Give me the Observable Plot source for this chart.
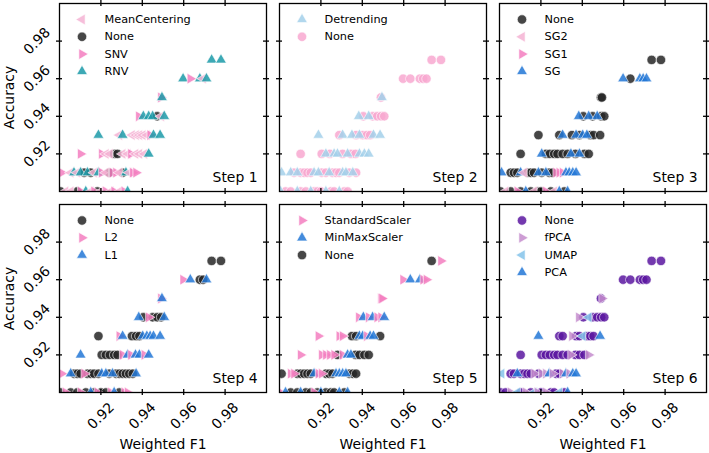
<!DOCTYPE html>
<html><head><meta charset="utf-8">
<script src="https://cdn.jsdelivr.net/npm/d3@7"></script>
<script src="https://cdn.jsdelivr.net/npm/@observablehq/plot@0.6"></script>
<style>
body{margin:0;background:#fff;}
#fig{position:relative;width:709px;height:453px;overflow:hidden;font-family:"DejaVu Sans",sans-serif;background:#fff;}
#fig svg{position:absolute;overflow:visible;background:transparent !important;max-width:none;}
</style></head><body><div id="fig"></div>
<script>
// ---- data: each point = (weighted F1, accuracy) ----
const f1 = [
  0.9735, 0.9780,
  0.9597, 0.9632, 0.9678, 0.9694, 0.9710,
  0.9490, 0.9495,
  0.9383, 0.9405, 0.9431, 0.9450, 0.9472, 0.9491, 0.9506,
  0.9188, 0.9289, 0.9305, 0.9350, 0.9370, 0.9386, 0.9402, 0.9422, 0.9438, 0.9454, 0.9486,
  0.9102, 0.9204, 0.9224, 0.9243, 0.9264, 0.9280, 0.9305, 0.9329, 0.9345, 0.9367, 0.9386, 0.9410, 0.9431,
  0.9010, 0.9054, 0.9070, 0.9086, 0.9102, 0.9119, 0.9135, 0.9151, 0.9167, 0.9188, 0.9204, 0.9224, 0.9240, 0.9256, 0.9273, 0.9289, 0.9305, 0.9321, 0.9337, 0.9354, 0.9370,
  0.9005, 0.9029, 0.9054, 0.9086, 0.9102, 0.9127, 0.9151, 0.9167, 0.9183, 0.9200, 0.9224, 0.9248, 0.9264, 0.9289, 0.9313, 0.9329
];
const acc = [
  0.97, 0.97,
  0.96, 0.96, 0.96, 0.96, 0.96,
  0.95, 0.95,
  0.94, 0.94, 0.94, 0.94, 0.94, 0.94, 0.94,
  0.93, 0.93, 0.93, 0.93, 0.93, 0.93, 0.93, 0.93, 0.93, 0.93, 0.93,
  0.92, 0.92, 0.92, 0.92, 0.92, 0.92, 0.92, 0.92, 0.92, 0.92, 0.92, 0.92, 0.92,
  0.91, 0.91, 0.91, 0.91, 0.91, 0.91, 0.91, 0.91, 0.91, 0.91, 0.91, 0.91, 0.91, 0.91, 0.91, 0.91, 0.91, 0.91, 0.91, 0.91, 0.91,
  0.90, 0.90, 0.90, 0.90, 0.90, 0.90, 0.90, 0.90, 0.90, 0.90, 0.90, 0.90, 0.90, 0.90, 0.90, 0.90
];

const step1Labels = ["MeanCentering", "None", "SNV", "RNV"];
const step1Cat = [3,3, 3,2,3,0,3, 2,3, 2,3,3,3,1,0,3,
  3,0,3,0,0,0,0,0,2,3,3, 2,2,0,0,1,1,0,0,2,0,0,0,3,
  2,0,3,0,3,1,3,1,0,3,2,0,1,2,2,0,1,3,0,2,2, 1,0,0,1,2,3,0,2,1,0,2,0,2,0,2,3];

const step2Labels = ["Detrending", "None"];
const step2Cat = [1,1, 1,1,1,1,1, 1,0, 0,1,0,1,1,1,1,
  0,1,0,0,1,0,1,1,1,0,0, 1,1,0,1,0,0,1,0,1,1,0,0,0,
  0,0,1,0,1,1,1,1,0,0,1,1,0,1,1,1,0,0,1,0,1, 0,1,1,0,1,1,0,1,1,1,0,1,1,0,1,1];

const step3Labels = ["None", "SG2", "SG1", "SG"];
const step3Cat = [0,0, 3,0,3,3,3, 0,0, 3,0,3,0,3,0,0,
  0,0,3,0,3,0,3,3,0,0,0, 0,3,0,0,0,0,0,0,3,0,3,0,0,
  3,0,0,0,3,1,0,0,0,3,0,3,0,0,2,2,2,3,3,3,3, 0,1,0,2,0,3,0,1,0,0,2,0,1,3,0,3];

const step4Labels = ["None", "L2", "L1"];
const step4Cat = [0,0, 1,2,0,0,2, 1,2, 2,0,1,0,0,0,2,
  0,1,2,0,0,0,2,2,2,2,2, 2,0,0,0,0,0,1,2,1,2,2,1,2,
  1,2,0,0,0,1,0,0,0,0,2,2,0,2,0,0,0,0,0,0,2, 0,1,0,0,1,0,2,0,1,0,0,1,2,0,1,1];

const step5Labels = ["StandardScaler", "MinMaxScaler", "None"];
const step5Cat = [2,0, 0,1,1,0,0, 0,0, 0,1,0,1,0,0,1,
  0,0,0,2,2,1,1,0,1,1,2, 0,0,0,0,0,2,0,1,1,2,2,2,2,
  2,0,0,2,2,2,2,2,1,0,0,2,2,2,1,1,1,1,2,2,2, 0,1,2,2,1,2,2,0,2,1,2,2,2,1,2,1];

const step6Labels = ["None", "fPCA", "UMAP", "PCA"];
const step6Cat = [0,0, 0,0,0,0,0, 0,1, 1,0,2,0,0,0,0,
  3,0,0,1,0,0,2,0,0,0,3, 0,0,0,0,0,0,0,0,1,0,0,0,1,
  2,0,0,3,0,0,0,0,1,0,1,1,3,1,0,0,1,3,1,3,3, 0,0,1,2,0,1,0,2,1,0,1,0,0,2,0,3];

const xTicks = [0.92, 0.94, 0.96, 0.98];
const yTicks = [0.92, 0.94, 0.96, 0.98];

// ---- styles ----
const C = {gray:"#262626", lpink:"#f5b3d3", pink:"#f37ebf", teal:"#1b9aa8", lblue:"#a3d0ea",
  pink2:"#f8a8d0", blue:"#2277d6", purple:"#5a16a0", orchid:"#c48ccc", sky:"#84c3ea"};
const styles = [
  [{c:C.lpink,s:"left"},{c:C.gray,s:"circle"},{c:C.pink,s:"right"},{c:C.teal,s:"up"}],
  [{c:C.lblue,s:"up"},{c:C.pink2,s:"circle"}],
  [{c:C.gray,s:"circle"},{c:C.lpink,s:"left"},{c:C.pink,s:"right"},{c:C.blue,s:"up"}],
  [{c:C.gray,s:"circle"},{c:C.pink,s:"right"},{c:C.blue,s:"up"}],
  [{c:C.pink,s:"right"},{c:C.blue,s:"up"},{c:C.gray,s:"circle"}],
  [{c:C.purple,s:"circle"},{c:C.orchid,s:"right"},{c:C.sky,s:"left"},{c:C.blue,s:"up"}]
];
const steps = [
  {labels:step1Labels, cats:step1Cat}, {labels:step2Labels, cats:step2Cat}, {labels:step3Labels, cats:step3Cat},
  {labels:step4Labels, cats:step4Cat}, {labels:step5Labels, cats:step5Cat}, {labels:step6Labels, cats:step6Cat}
];
const SYM = {circle:"circle", up:"triangle", left:"triangle", right:"triangle"};
const ROT = {circle:0, up:0, left:-90, right:90};
const RAD = {circle:4.7, up:4.0, left:4.0, right:4.0};

const W = 207, H = 188;
const lefts = [59, 279, 499], tops = [3, 204];
const ML = 59, MR = 12, MT = 3, MB = 62;
const fig = document.getElementById("fig");

steps.forEach((st, k) => {
  const col = k % 3, row = Math.floor(k / 3);
  const sty = styles[k];
  const idx = d3.range(f1.length);
  const marks = [];
  marks.push(Plot.dot(idx, {
    x: i => f1[i], y: i => acc[i],
    fill: i => sty[st.cats[i]].c,
    symbol: i => SYM[sty[st.cats[i]].s],
    rotate: i => ROT[sty[st.cats[i]].s],
    r: i => RAD[sty[st.cats[i]].s],
    fillOpacity: 0.85, stroke: "white", strokeWidth: 0.6, clip: true
  }));
  marks.push(Plot.frame({stroke: "black", strokeWidth: 1.3}));
  const tk = {stroke: "black", strokeWidth: 1.3};
  marks.push(Plot.tickX(xTicks, {x: d => d, insetTop: -3, insetBottom: H - 3, ...tk}));
  marks.push(Plot.tickX(xTicks, {x: d => d, insetTop: H - 3, insetBottom: -3, ...tk}));
  marks.push(Plot.tickY(yTicks, {y: d => d, insetLeft: -3, insetRight: W - 3, ...tk}));
  marks.push(Plot.tickY(yTicks, {y: d => d, insetLeft: W - 3, insetRight: -3, ...tk}));
  if (col === 0) {
    marks.push(Plot.text(yTicks, {y: d => d, text: d => d.toFixed(2), frameAnchor: "left", dx: -22.5,
      rotate: -45, textAnchor: "middle", lineAnchor: "middle", fontSize: 13.9, fill: "black"}));
    marks.push(Plot.text(["Accuracy"], {text: d => d, frameAnchor: "left", dx: -50, rotate: -90,
      textAnchor: "middle", lineAnchor: "middle", fontSize: 13.9, fill: "black"}));
  }
  if (row === 1) {
    marks.push(Plot.text(xTicks, {x: d => d, text: d => d.toFixed(2), frameAnchor: "bottom", dy: 23.5,
      rotate: -45, textAnchor: "middle", lineAnchor: "middle", fontSize: 13.9, fill: "black"}));
    marks.push(Plot.text(["Weighted F1"], {text: d => d, frameAnchor: "bottom", dy: 52,
      textAnchor: "middle", lineAnchor: "middle", fontSize: 13.9, fill: "black"}));
  }
  marks.push(Plot.text([`Step ${k + 1}`], {text: d => d, frameAnchor: "bottom-right", dx: -9, dy: -13.5,
    textAnchor: "end", lineAnchor: "middle", fontSize: 13.9, fill: "black"}));
  st.labels.forEach((lab, j) => {
    const s = sty[j];
    marks.push(Plot.dot([j], {frameAnchor: "top-left", dx: 22.5, dy: 16 + j * 17.3,
      fill: s.c, symbol: SYM[s.s], rotate: ROT[s.s], r: RAD[s.s], fillOpacity: 0.85, stroke: "white", strokeWidth: 0.6}));
    marks.push(Plot.text([lab], {text: d => d, frameAnchor: "top-left", dx: 45, dy: 16 + j * 17.3,
      textAnchor: "start", lineAnchor: "middle", fontSize: 11.3, fill: "black"}));
  });
  const svg = Plot.plot({
    width: ML + W + MR, height: MT + H + MB,
    marginLeft: ML, marginRight: MR, marginTop: MT, marginBottom: MB,
    x: {domain: [0.9, 1.0], axis: null},
    y: {domain: [0.9, 1.0], axis: null},
    r: {type: "identity"},
    style: {fontFamily: "DejaVu Sans", background: "transparent", overflow: "visible"},
    marks
  });
  svg.style.left = (lefts[col] - ML) + "px";
  svg.style.top = (tops[row] - MT) + "px";
  fig.appendChild(svg);
});
</script></body></html>
